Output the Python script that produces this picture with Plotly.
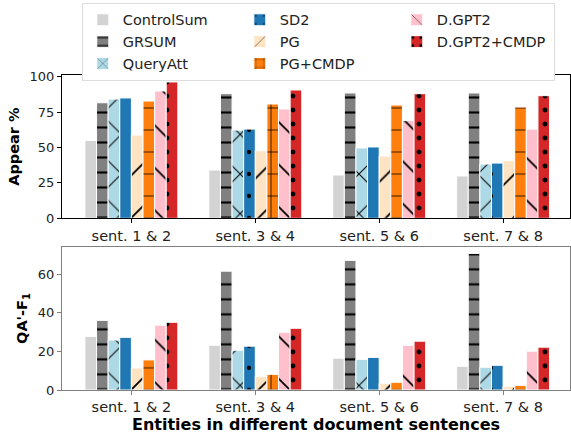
import plotly.graph_objects as go
from plotly.subplots import make_subplots

categories = ["sent. 1 & 2", "sent. 3 & 4", "sent. 5 & 6", "sent. 7 & 8"]
series = ["ControlSum", "GRSUM", "QueryAtt", "SD2", "PG", "PG+CMDP", "D.GPT2", "D.GPT2+CMDP"]

appear = {
    "ControlSum":  [55.0, 34.1, 30.6, 29.9],
    "GRSUM":       [81.6, 88.0, 88.5, 88.5],
    "QueryAtt":    [84.2, 62.3, 49.7, 38.3],
    "SD2":         [85.0, 63.0, 50.4, 39.0],
    "PG":          [58.8, 47.7, 44.0, 40.7],
    "PG+CMDP":     [82.8, 80.7, 80.0, 78.6],
    "D.GPT2":      [89.9, 77.2, 69.0, 63.0],
    "D.GPT2+CMDP": [96.3, 90.6, 88.0, 86.6],
}
qaf1 = {
    "ControlSum":  [27.8, 23.2, 16.5, 12.3],
    "GRSUM":       [36.1, 61.6, 67.2, 70.8],
    "QueryAtt":    [25.9, 20.6, 15.9, 11.8],
    "SD2":         [27.3, 22.7, 16.9, 12.8],
    "PG":          [11.4, 7.1, 3.5, 1.9],
    "PG+CMDP":     [15.6, 8.1, 4.0, 2.4],
    "D.GPT2":      [33.6, 29.9, 23.2, 20.1],
    "D.GPT2+CMDP": [35.1, 32.0, 25.3, 22.2],
}

colors = ["#d3d3d3", "#808080", "#add8e6", "#1f77b4", "#ffe4c4", "#ff7f0e", "#ffc0cb", "#d62728"]
shapes = ["", "-", "x", ".", "/", "+", "\\", "."]
psizes = [8, 15, 28, 22, 30, 22, 30, 14]
psolid = [0.3, 0.14, 0.07, 0.03, 0.06, 0.07, 0.06, 0.1]
# column-major legend order -> rows of three
ranks = [1, 4, 7, 2, 5, 8, 3, 6]

x = list(range(len(categories)))

fig = make_subplots(rows=2, cols=1, shared_xaxes=False, vertical_spacing=0.09)

for i, name in enumerate(series):
    for r, data in ((1, appear), (2, qaf1)):
        fig.add_trace(go.Bar(
            x=x, y=data[name], name=name, legendgroup=name, showlegend=(r == 1),
            legendrank=ranks[i],
            marker=dict(color=colors[i], line=dict(color="white", width=1),
                        pattern=dict(shape=shapes[i], fgcolor="black", bgcolor=colors[i],
                                     fgopacity=1, size=psizes[i], solidity=psolid[i])),
        ), row=r, col=1)

font_family = "DejaVu Sans"
fig.update_layout(
    width=571, height=437,
    margin=dict(l=62, r=1, t=75, b=47),
    paper_bgcolor="white", plot_bgcolor="white",
    bargap=0.25, bargroupgap=0,
    font=dict(family=font_family, size=13, color="#222"),
    legend=dict(orientation="h", x=0.039, y=1.229, xanchor="left", yanchor="top",
                bordercolor="#dddddd", borderwidth=1, bgcolor="white",
                entrywidth=112, entrywidthmode="pixels",
                font=dict(size=14.5), traceorder="normal"),
)

fig.update_layout(yaxis=dict(domain=[0.545, 1.0]), yaxis2=dict(domain=[0.0, 0.4544]))

common_x = dict(range=[-0.56, 3.54], tickvals=x, ticktext=categories, ticks="outside",
                ticklen=4, showgrid=False, zeroline=False, mirror=True, showline=True,
                tickfont=dict(size=14.5))
fig.update_xaxes(**common_x, linecolor="black", tickcolor="black", row=1, col=1)
fig.update_xaxes(**common_x, linecolor="#808080", tickcolor="#808080",
                 title=dict(text="<b>Entities in different document sentences</b>",
                            font=dict(size=16, color="black"), standoff=2), row=2, col=1)
fig.update_yaxes(range=[0, 101.2], tickvals=[0, 25, 50, 75, 100], ticks="outside", ticklen=4,
                 showgrid=False, zeroline=False, showline=True, mirror=True,
                 linecolor="black", tickcolor="black",
                 title=dict(text="<b>Appear %</b>", font=dict(size=14.5, color="black"), standoff=6),
                 row=1, col=1)
fig.update_yaxes(range=[0, 74.2], tickvals=[0, 20, 40, 60], ticks="outside", ticklen=4,
                 showgrid=False, zeroline=False, showline=True, mirror=True,
                 linecolor="#808080", tickcolor="#808080",
                 title=dict(text="<b>QA'-F<sub>1</sub></b>", font=dict(size=14.5, color="black"), standoff=6),
                 row=2, col=1)

fig.write_html("out.html", config={"displayModeBar": False},
               post_script="document.body.style.margin='0px';")
